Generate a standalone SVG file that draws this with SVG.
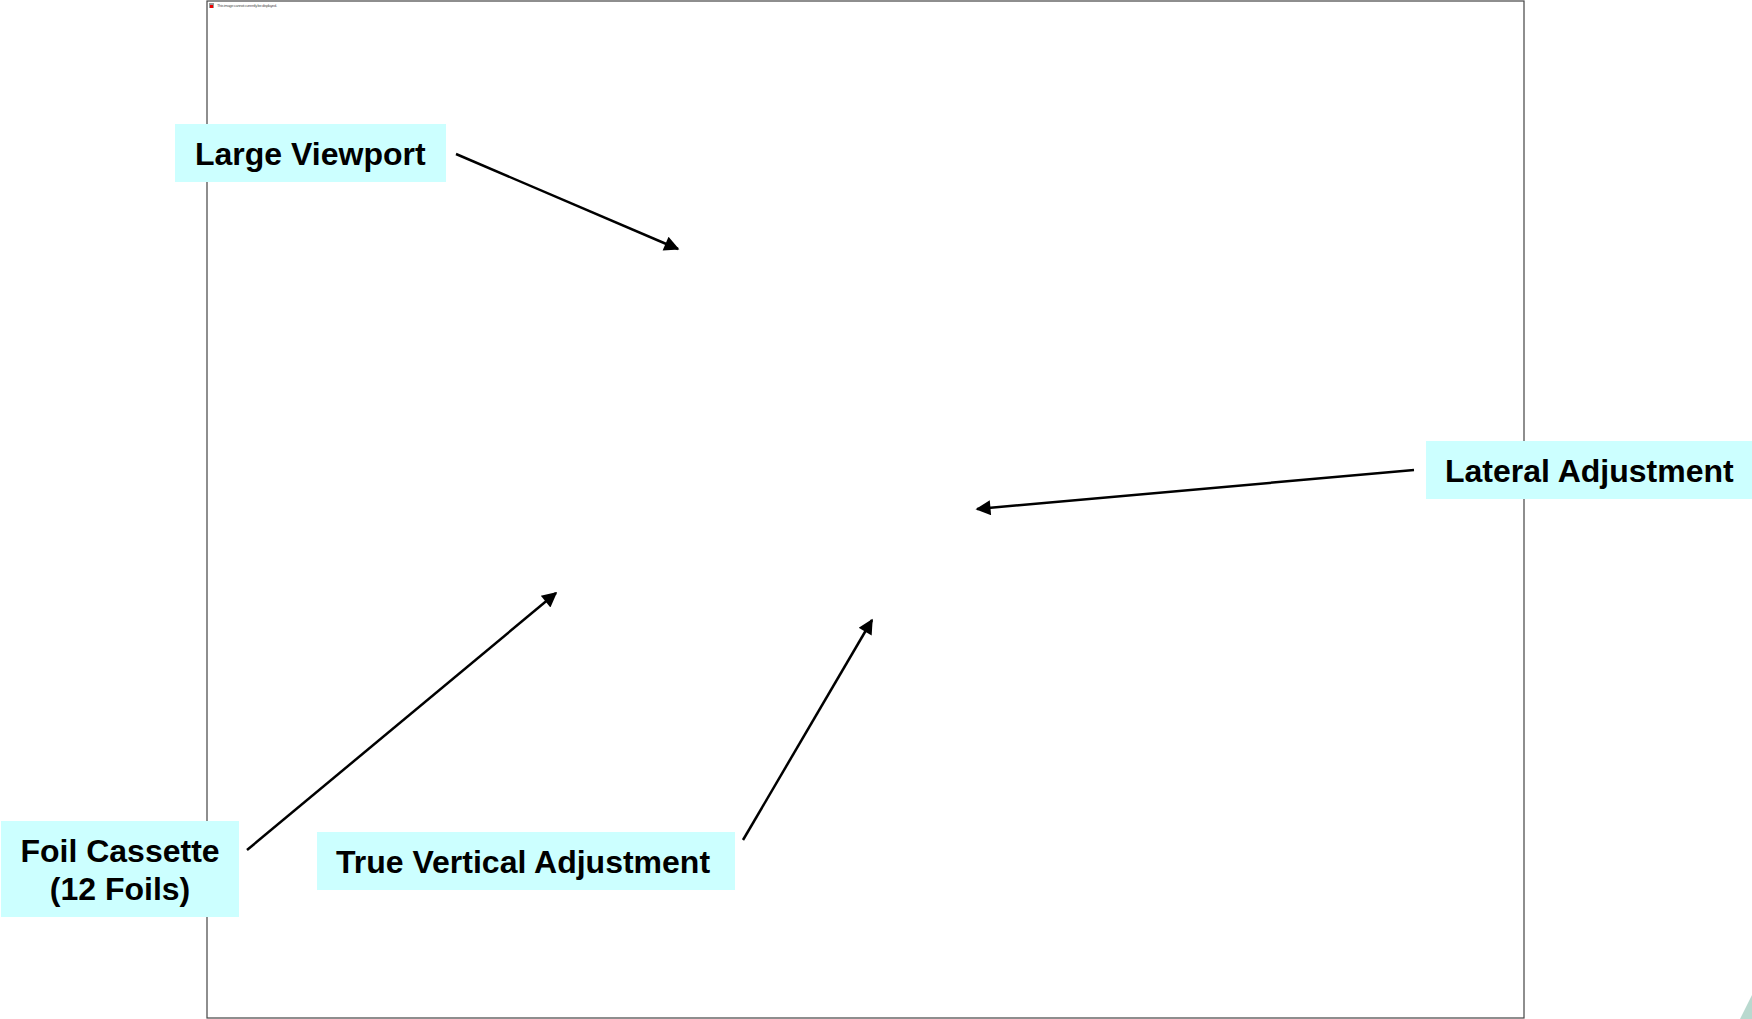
<svg xmlns="http://www.w3.org/2000/svg" width="1752" height="1019" viewBox="0 0 1752 1019">
<style>
.box{fill:#CCFFFF;stroke:none}
.lbl{font-family:"Liberation Sans",Arial,sans-serif;font-weight:bold;font-size:32px;fill:#000}
.conn{stroke:#000;stroke-width:2.5;fill:none;marker-end:url(#ah)}
</style>
<defs>
<marker id="ah" viewBox="0 0 10 10" refX="9" refY="5" markerWidth="7.5" markerHeight="6" markerUnits="strokeWidth" orient="auto">
<path d="M0,0 L10,5 L0,10 Z" fill="#000"/>
</marker>
</defs>
<rect x="0" y="0" width="1752" height="1019" fill="#fff"/>
<g id="frame">
<rect x="207" y="1" width="1317" height="1017" fill="#fff" stroke="#444" stroke-width="1.2"/>
<rect x="209" y="3" width="5" height="5" fill="#999"/>
<rect x="210" y="5" width="3" height="3" fill="#e00"/>
<text x="217" y="7" font-family="Liberation Sans, sans-serif" font-size="4" fill="#555" textLength="60">This image cannot currently be displayed.</text>
</g>
<path d="M1740,1019 L1752,995 L1752,1019 Z" fill="#b9d9cf"/>
<g id="connectors">
<line class="conn" x1="456" y1="154" x2="678" y2="249"/>
<line class="conn" x1="1414" y1="470" x2="977" y2="509"/>
<line class="conn" x1="247" y1="850" x2="556" y2="593"/>
<line class="conn" x1="743" y1="840" x2="872" y2="620"/>
</g>
<g id="large-viewport">
<rect class="box" x="175" y="124" width="271" height="58"/>
<text class="lbl" x="195" y="165">Large Viewport</text>
</g>
<g id="lateral-adjustment">
<rect class="box" x="1426" y="441" width="326" height="58"/>
<text class="lbl" x="1445" y="482">Lateral Adjustment</text>
</g>
<g id="foil-cassette">
<rect class="box" x="1" y="821" width="238" height="96"/>
<text class="lbl" x="120" y="862" text-anchor="middle">Foil Cassette</text>
<text class="lbl" x="120" y="900" text-anchor="middle">(12 Foils)</text>
</g>
<g id="true-vertical-adjustment">
<rect class="box" x="317" y="832" width="418" height="58"/>
<text class="lbl" x="336" y="873">True Vertical Adjustment</text>
</g>
</svg>
